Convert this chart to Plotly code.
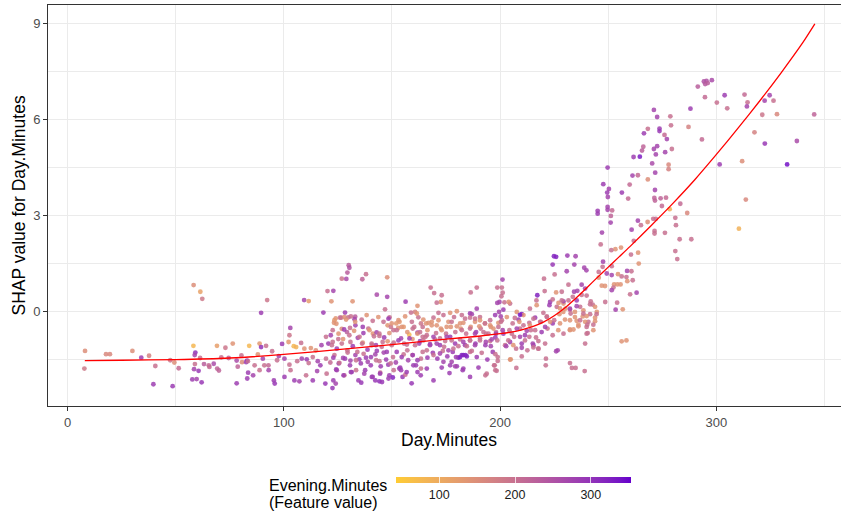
import plotly.graph_objects as go

# ---- SHAP dependence data: Day.Minutes vs its SHAP value, coloured by Evening.Minutes ----
# Low Day.Minutes (< 85)
day_a = [8.1, 7.8, 17.8, 19.6, 30.0, 34.1, 37.7, 40.6, 39.7, 47.5, 48.6, 49.4, 51.4, 58.3, 61.4, 62.3,
         58.2, 59.1, 58.8, 61.3, 58.9, 58.5, 60.6, 57.7, 59.7, 62.0, 63.1, 65.3, 65.6, 67.6, 69.2, 70.0,
         69.1, 73.0, 76.4, 71.1, 74.5, 78.2, 78.7, 78.2, 80.4, 80.7, 82.6, 83.0, 84.0, 83.5]
shap_a = [-1.22, -1.77, -1.32, -1.32, -1.22, -1.43, -1.37, -1.69, -2.26, -1.51, -2.32, -1.58, -1.76, 0.84, 0.63, 0.41,
          -1.06, -1.27, -1.35, -1.44, -1.63, -1.79, -1.84, -2.11, -2.10, -2.20, -1.63, -1.67, -1.72, -1.62, -1.77, -1.83,
          -1.06, -1.12, -0.99, -1.42, -1.44, -1.52, -1.71, -2.23, -1.36, -1.57, -1.57, -1.52, -1.06, -1.90]
eve_a = [150, 185, 160, 160, 150, 280, 170, 200, 280, 190, 285, 150, 210, 150, 115, 185,
         80, 300, 270, 200, 200, 270, 290, 280, 270, 290, 230, 210, 210, 260, 220, 220,
         120, 190, 140, 200, 220, 260, 220, 280, 200, 150, 280, 300, 80, 280]

# 85-165: upper stragglers
day_b_top = [130.0, 130.3, 129.4, 126.8, 128.9, 136.3, 138.0, 147.8, 120.2, 122.9, 122.0, 131.8, 109.4,
             111.5, 92.3, 143.0, 147.8, 156.3, 146.8, 148.9, 161.8, 118.3, 89.5, 103.0, 128.3, 160.7]
shap_b_top = [1.46, 1.38, 1.23, 1.04, 1.03, 1.02, 1.18, 1.08, 0.65, 0.66, 0.33, 0.33, 0.37,
              0.34, 0.37, 0.54, 0.47, 0.32, 0.08, -0.17, 0.19, -0.02, -0.03, -0.50, -0.02, 0.00]
eve_b_top = [230, 250, 230, 190, 260, 220, 200, 150, 200, 270, 140, 140, 270,
             120, 190, 260, 270, 280, 200, 200, 140, 280, 280, 270, 280, 170]

# 85-165: upper edge of the main band
day_b_mid = [124.0, 126.5, 128.0, 129.8, 133.0, 132.7, 124.3, 126.8, 129.2, 133.1, 136.5, 139.1, 141.2, 142.9,
             144.2, 148.0, 149.5, 152.0, 153.5, 152.9, 155.4, 158.0, 160.3, 161.8, 163.4, 158.8, 162.2, 102.6,
             123.4, 121.7, 119.5, 130.6]
shap_b_mid = [-0.20, -0.18, -0.16, -0.17, -0.15, -0.23, -0.37, -0.53, -0.63, -0.42, -0.47, -0.52, -0.68, -0.64,
              -0.75, -0.42, -0.47, -0.36, -0.31, -0.50, -0.47, -0.71, -0.47, -0.65, -0.36, -0.02, -0.17, -0.73,
              -0.26, -0.73, -0.78, -0.50]
eve_b_mid = [140, 190, 150, 200, 230, 270, 140, 150, 230, 270, 280, 200, 140, 270,
             200, 140, 190, 130, 130, 140, 130, 80, 200, 280, 190, 200, 200, 190,
             130, 270, 200, 200]

# 85-165: centre of the main band
day_b_band1 = [88.8, 89.5, 91.8, 94.6, 99.2, 102.2, 104.6, 105.7, 109.5, 112.5, 114.8, 117.4, 120.6, 122.6, 125.2,
               127.4, 130.8, 134.2, 136.5, 140.6, 142.6, 145.7, 148.0, 150.8, 154.2, 156.9, 159.5, 162.6, 164.2, 108.0]
shap_b_band1 = [-0.99, -1.10, -1.06, -1.23, -1.00, -0.94, -1.07, -1.10, -1.15, -1.13, -1.20, -1.04, -0.99, -0.94, -0.85,
                -0.85, -0.94, -0.81, -0.96, -0.99, -1.04, -0.94, -0.92, -0.96, -0.83, -1.02, -0.85, -0.99, -0.78, -0.97]
eve_b_band1 = [130, 300, 200, 200, 280, 130, 80, 90, 140, 140, 150, 270, 280, 200, 200,
               140, 200, 270, 140, 200, 270, 200, 140, 200, 270, 200, 140, 270, 200, 200]

day_b_band2 = [83.4, 86.5, 88.0, 90.3, 91.0, 92.9, 96.9, 97.7, 100.3, 102.6, 106.2, 108.3, 110.6, 111.5,
               113.4, 115.7, 116.9, 119.5, 121.5, 123.4, 125.4, 127.4, 129.5, 130.8, 133.1, 134.9, 136.9, 138.8,
               140.3, 142.3, 144.2, 146.2, 148.3, 150.5, 151.8, 153.4, 155.4, 157.5, 159.5, 161.1, 163.4]
shap_b_band2 = [-1.54, -1.67, -1.33, -1.46, -1.67, -1.67, -1.51, -1.38, -1.46, -1.65, -1.54, -1.46, -1.48, -1.60,
                -1.41, -1.54, -1.67, -1.46, -1.58, -1.35, -1.61, -1.44, -1.27, -1.52, -1.35, -1.48, -1.31, -1.56,
                -1.41, -1.33, -1.54, -1.27, -1.65, -1.41, -1.58, -1.77, -1.33, -1.51, -1.35, -1.67, -1.46]
eve_b_band2 = [200, 200, 140, 270, 200, 210, 200, 270, 270, 200, 200, 270, 280, 200,
               200, 270, 280, 200, 210, 200, 280, 270, 200, 270, 270, 280, 200, 270,
               280, 270, 200, 270, 280, 200, 270, 280, 200, 270, 200, 280, 200]

# 85-165: lower edge of the main band
day_b_low = [83.1, 85.8, 88.8, 93.0, 95.4, 95.8, 100.3, 103.1, 104.9, 107.2, 110.3, 113.4, 115.4, 119.2,
             119.8, 122.5, 122.9, 124.0, 124.5, 128.0, 131.4, 133.4, 135.8, 137.2, 141.1, 142.3, 144.6, 144.2,
             145.4, 148.8, 150.8, 154.2, 154.9, 156.2, 159.1, 161.8, 163.4]
shap_b_low = [-2.08, -1.98, -1.82, -1.82, -2.14, -2.24, -2.03, -1.82, -2.14, -2.17, -1.98, -2.14, -1.85, -2.24,
              -1.93, -2.38, -2.14, -2.24, -1.82, -1.98, -1.88, -1.82, -2.21, -1.93, -2.03, -2.14, -1.90, -2.17,
              -2.19, -1.98, -1.82, -1.82, -2.03, -1.96, -2.23, -1.88, -1.77]
eve_b_low = [280, 270, 200, 270, 280, 290, 280, 200, 280, 270, 200, 280, 270, 290,
             200, 290, 280, 270, 270, 200, 280, 200, 290, 270, 280, 290, 200, 300,
             290, 280, 200, 280, 290, 200, 290, 280, 200]

# 120-151: additional points of the dense band
day_f1 = [123.2, 126.0, 128.8, 131.0, 133.0, 136.0, 138.3, 141.1, 143.7, 146.1, 148.4, 149.9,
          122.6, 125.3, 127.9, 130.3, 132.5, 135.0, 136.8, 139.6, 141.7, 144.2, 146.4, 148.8, 150.7,
          122.2, 124.5, 126.8, 129.4, 131.9, 134.0, 136.2, 138.7, 140.7, 143.0, 145.3, 147.6, 149.9,
          122.9, 125.7, 128.3, 130.6, 133.4, 135.6, 138.0, 140.2, 142.7, 144.8, 147.3, 149.4,
          124.2, 127.6, 131.0, 134.5, 137.6, 140.7, 144.5, 148.4, 150.4]
shap_f1 = [-0.34, -0.18, -0.24, -0.14, -0.31, -0.24, -0.10, -0.28, -0.16, -0.31, -0.21, -0.36,
           -0.57, -0.68, -0.55, -0.73, -0.59, -0.78, -0.66, -0.57, -0.76, -0.68, -0.80, -0.66, -0.57,
           -1.04, -1.15, -0.99, -1.20, -1.07, -1.25, -0.99, -1.18, -1.04, -1.22, -1.09, -1.25, -1.04,
           -1.43, -1.59, -1.46, -1.67, -1.51, -1.61, -1.43, -1.67, -1.51, -1.70, -1.49, -1.61,
           -1.80, -1.98, -1.88, -2.14, -1.82, -2.03, -1.93, -2.08, -2.05]
eve_f1 = [140, 200, 140, 200, 140, 200, 140, 200, 140, 200, 280, 140,
          200, 140, 280, 200, 140, 200, 280, 140, 200, 200, 280, 140, 200,
          200, 280, 200, 200, 280, 200, 200, 280, 200, 280, 200, 280, 200,
          280, 200, 280, 280, 200, 280, 280, 280, 200, 280, 280, 200,
          280, 280, 280, 280, 280, 280, 280, 280, 320]

# 152-200: additional points of the dense band
day_f2 = [153.0, 156.1, 159.2, 161.5, 164.5, 166.9, 169.2, 171.5, 173.8, 176.1,
          178.7, 181.5, 183.8, 186.1, 188.4, 190.7, 193.0, 195.4, 197.7, 199.2,
          152.2, 154.5, 157.1, 159.6, 161.8, 164.2, 166.4, 168.4, 170.4, 172.6, 175.0,
          177.2, 179.3, 181.8, 184.3, 186.4, 188.9, 191.0, 193.5, 195.7, 198.1,
          153.0, 155.6, 158.1, 160.7, 163.0, 165.5, 167.6, 169.9, 172.2, 174.6,
          176.9, 179.2, 181.5, 183.8, 186.1, 188.6, 190.7, 193.2, 195.4, 197.8,
          152.2, 154.5, 157.1, 159.6, 161.8, 164.2, 166.4, 168.9, 171.0, 173.5, 175.6,
          178.1, 180.7, 183.0, 184.6, 186.9, 189.2, 191.5, 194.1, 196.6, 198.9,
          153.8, 156.8, 159.9, 163.3, 166.1, 169.2, 173.0, 176.6, 180.0, 182.7,
          186.1, 190.0, 193.8, 197.2, 198.4]
shap_f2 = [-0.26, -0.14, -0.31, -0.05, -0.24, -0.34, -0.18, -0.26, -0.10, -0.31,
           -0.16, -0.36, -0.21, -0.05, -0.31, -0.16, -0.36, -0.26, -0.10, -0.34,
           -0.57, -0.47, -0.63, -0.52, -0.68, -0.47, -0.57, -0.42, -0.66, -0.52, -0.68,
           -0.47, -0.63, -0.52, -0.68, -0.47, -0.63, -0.52, -0.68, -0.47, -0.63,
           -0.89, -0.99, -0.83, -1.04, -0.91, -0.78, -1.01, -0.86, -1.04, -0.91,
           -0.78, -0.99, -0.86, -1.04, -0.89, -0.99, -0.83, -1.04, -0.91, -0.80,
           -1.25, -1.41, -1.20, -1.35, -1.51, -1.25, -1.43, -1.28, -1.46, -1.22, -1.39,
           -1.25, -1.43, -1.35, -1.39, -1.22, -1.41, -1.28, -1.49, -1.25, -1.41,
           -1.74, -1.88, -1.67, -1.98, -1.77, -2.14, -1.74, -1.91, -1.70, -1.82,
           -2.03, -1.74, -1.93, -1.67, -1.84]
eve_f2 = [140, 140, 200, 140, 140, 140, 200, 140, 200, 140,
          200, 140, 200, 280, 140, 200, 140, 200, 280, 140,
          200, 140, 140, 200, 140, 200, 140, 140, 200, 140, 200,
          140, 200, 140, 200, 140, 280, 200, 200, 140, 200,
          280, 200, 280, 200, 280, 200, 280, 200, 280, 200,
          280, 280, 200, 280, 200, 280, 200, 280, 200, 280,
          280, 280, 200, 280, 280, 200, 280, 280, 280, 200, 280,
          280, 320, 320, 320, 200, 280, 200, 280, 280, 200,
          280, 280, 280, 280, 280, 280, 280, 280, 280, 280,
          280, 280, 200, 200, 200]

# 200-245: additional points of the dense band
day_f3 = [201.5, 204.6, 207.7, 210.0, 213.8, 216.9, 220.0, 223.1, 226.2, 229.3, 232.3, 235.4, 238.5, 241.6, 244.7,
          200.8, 203.1, 205.8, 208.5, 210.8, 213.5, 216.2, 218.8, 221.6, 224.3, 227.4, 230.0, 232.6, 235.4,
          238.2, 240.8, 243.9,
          201.5, 204.3, 206.5, 209.2, 211.5, 214.2, 216.6, 219.2, 221.9, 224.3, 226.9, 229.3, 232.3, 236.2,
          240.0, 243.1,
          202.3, 204.6, 207.4, 210.0, 212.6, 215.4, 217.7, 220.8,
          204.6, 210.0, 217.7]
shap_f3 = [0.07, 0.26, 0.00, -0.07, 0.10, 0.21, -0.03, 0.31, 0.16, 0.26, 0.07, 0.36, 0.05, 0.24, 0.00,
           -0.26, -0.16, -0.36, -0.24, -0.10, -0.34, -0.18, -0.31, -0.14, -0.36, -0.07, -0.24, -0.05, -0.28,
           -0.14, -0.31, -0.18,
           -0.68, -0.57, -0.78, -0.52, -0.73, -0.57, -0.80, -0.63, -0.52, -0.73, -0.57, -0.68, -0.55, -0.45,
           -0.68, -0.57,
           -1.04, -0.94, -1.15, -0.99, -1.20, -1.04, -0.91, -0.99,
           -1.49, -1.39, -1.15]
eve_f3 = [280, 200, 140, 320, 200, 140, 200, 280, 200, 140, 200, 280, 140, 200, 140,
          200, 140, 200, 280, 140, 200, 280, 200, 200, 280, 140, 140, 200, 140,
          140, 200, 140,
          280, 200, 200, 200, 280, 200, 200, 280, 200, 200, 140, 200, 140, 140,
          200, 140,
          200, 280, 200, 280, 200, 280, 200, 200,
          140, 200, 200]

# 163-196
day_c1 = [186.4, 189.2, 189.2, 186.9, 188.4, 190.7, 193.0, 195.4, 190.4, 186.1, 188.4, 192.3, 194.6, 196.9,
          190.7, 193.4, 188.4, 195.7, 186.1, 184.6, 184.0, 182.3, 181.5, 186.1, 179.6, 177.6, 176.9, 179.2,
          183.0, 173.8, 172.2, 169.2, 166.1, 167.6, 164.5, 170.7, 174.1, 176.1, 178.4, 180.7, 183.0, 177.6,
          175.3, 172.2, 169.2, 166.1, 163.0, 165.8, 168.4, 170.7, 173.0, 175.3, 177.6, 180.0, 182.3, 183.0,
          171.5, 176.9, 180.0, 169.5, 173.0, 172.6, 170.7, 186.1, 182.3, 167.9]
shap_c1 = [0.61, 0.76, 0.10, -0.07, -0.21, -0.26, -0.36, -0.42, -0.45, -0.52, -0.68, -0.63, -0.68, -0.52,
           -0.89, -0.94, -1.04, -1.07, -0.89, -1.07, -1.35, -1.35, -1.41, -1.25, -1.41, -1.56, -1.67, -1.70,
           -1.77, -1.56, -1.30, -1.35, -1.20, -1.04, -0.89, -0.99, -1.09, -1.20, -1.15, -1.07, -0.94, -0.89,
           -0.78, -0.83, -0.78, -0.73, -0.63, -0.36, -0.31, -0.42, -0.57, -0.47, -0.31, -0.45, -0.57, -0.34,
           -0.03, -0.03, 0.02, 0.59, 0.52, 0.31, 0.29, -0.18, -0.10, 0.76]
eve_c1 = [200, 200, 270, 270, 200, 140, 200, 140, 140, 200, 270, 200, 200, 140,
          200, 270, 270, 270, 200, 200, 320, 320, 320, 200, 280, 270, 280, 270,
          280, 270, 270, 200, 200, 270, 200, 270, 200, 270, 200, 200, 270, 200,
          270, 200, 270, 200, 200, 140, 140, 140, 140, 140, 200, 140, 200, 140,
          200, 140, 140, 200, 200, 140, 200, 200, 200, 200]

# 193-205
day_c2 = [201.1, 200.8, 198.7, 201.2, 200.6, 199.7, 198.7, 202.0, 204.0, 199.5,
          200.3, 200.4, 199.2, 201.2, 198.1, 198.7, 196.1, 197.8, 197.5, 198.9, 193.2, 197.8]
shap_c2 = [1.01, 0.76, 0.76, 0.60, 0.49, 0.31, 0.28, 0.30, 0.31, 0.00,
           -0.14, -0.31, -0.47, -0.57, -0.68, -0.89, -0.86, -1.32, -1.67, -1.53, -1.98, -1.82]
eve_c2 = [270, 200, 200, 200, 200, 270, 270, 200, 140, 270,
          270, 200, 200, 270, 270, 200, 270, 200, 200, 200, 200, 200]

# 202-233
day_c3 = [224.9, 225.9, 231.1, 224.3, 225.2, 230.8, 231.6, 220.3, 217.2, 220.6, 216.8, 222.8, 224.3,
          225.9, 228.5, 227.0, 229.3, 231.6, 227.7, 230.2, 221.6, 223.1, 225.0, 220.8, 218.5, 215.4,
          213.8, 216.2, 212.3, 213.5, 209.2, 206.8, 208.9, 210.8, 207.7, 205.4, 209.2, 211.5, 215.1,
          217.7, 203.8, 202.8, 206.1, 204.9, 207.5, 221.2, 221.1, 225.9, 226.6, 232.3, 215.4, 210.0]
shap_c3 = [1.74, 1.72, 1.76, 1.48, 1.17, 1.27, 0.85, 1.04, 0.52, 0.65, 0.36, 0.21, 0.39,
           0.61, 0.63, 0.28, 0.33, 0.36, 0.11, 0.10, -0.16, -0.31, -0.26, -0.47, -0.31, -0.21,
           -0.42, -0.57, -0.59, -0.78, -0.09, -0.19, -0.31, -0.42, -0.52, -0.68, -0.78, -0.89, -0.99,
           -1.15, -0.89, -1.07, -1.04, -1.48, -1.75, -1.46, -1.67, -1.23, -1.20, -1.60, -1.11, -1.12]
eve_c3 = [320, 320, 280, 290, 200, 270, 200, 200, 320, 200, 200, 280, 200,
          140, 200, 140, 270, 200, 140, 140, 200, 140, 200, 270, 200, 200,
          140, 200, 270, 200, 330, 200, 140, 200, 270, 200, 270, 200, 270,
          200, 200, 270, 140, 140, 200, 200, 200, 270, 270, 200, 200, 270]

# 227-265, SHAP below ~2.3
day_d1 = [261.8, 246.5, 253.3, 255.9, 251.4, 260.5, 263.8, 234.9, 234.3, 238.9, 239.9, 247.6, 247.4,
          251.6, 254.5, 258.7, 260.7, 261.3, 258.4, 256.2, 264.1, 245.6, 249.3, 251.6, 247.0, 248.5,
          252.7, 254.2, 255.7, 252.4, 251.6, 245.6, 258.8, 260.1, 263.1, 254.1, 248.6, 253.4, 256.7,
          237.7, 239.3, 234.2, 235.7, 233.6, 237.7, 240.0, 241.9, 242.8, 243.9, 244.6, 241.6, 240.0,
          238.5, 237.0, 235.4, 232.3, 228.5, 229.2, 234.6, 227.7, 232.3, 234.6, 237.0, 233.9, 232.3,
          236.2, 239.3, 240.3, 243.9, 243.1, 240.0, 240.5, 239.3, 256.2, 258.4, 233.2, 234.9, 239.1]
shap_d1 = [2.22, 2.11, 1.96, 2.01, 1.93, 1.79, 1.85, 1.74, 1.48, 1.38, 1.30, 1.57, 1.41,
           1.43, 1.18, 1.28, 1.27, 0.99, 1.09, 1.11, 1.51, 1.25, 1.20, 1.15, 0.82, 0.81,
           0.86, 0.86, 0.86, 0.76, 0.68, 1.07, 0.96, 0.55, 0.60, 0.29, 0.31, 0.07, 0.08,
           0.85, 0.73, 0.63, 0.66, 0.47, 0.53, 0.51, 0.33, 0.23, 0.16, -0.07, -0.07, -0.13,
           -0.05, 0.16, 0.18, 0.10, 0.36, 0.00, 0.00, -0.36, -0.26, -0.16, -0.26, -0.55, -0.57,
           -0.40, -0.31, -0.40, -0.29, -0.40, -0.47, -0.66, -0.99, -0.92, -0.89, -1.75, -1.75, -1.85]
eve_d1 = [200, 200, 140, 140, 200, 200, 140, 270, 270, 270, 270, 270, 200,
          200, 140, 270, 200, 200, 200, 200, 140, 200, 270, 270, 140, 140,
          140, 140, 140, 200, 270, 140, 140, 200, 270, 200, 200, 270, 140,
          270, 270, 270, 270, 200, 200, 200, 200, 200, 140, 200, 200, 140,
          200, 200, 270, 270, 200, 140, 140, 140, 140, 140, 200, 140, 140,
          140, 140, 200, 140, 200, 200, 200, 200, 140, 140, 200, 200, 200]

# 245-346, the steep upper arm
day_d2 = [291.4, 294.2, 295.4, 294.8, 296.0, 297.9, 294.7, 303.8, 313.0, 324.6, 300.2, 305.0, 314.4, 314.1,
          322.3, 326.4, 288.0, 321.2, 328.0, 345.2, 271.1, 272.6, 278.7, 279.0, 268.3, 273.7, 273.7, 266.5,
          276.0, 277.1, 287.1, 293.3, 317.6, 337.2, 322.4, 266.2, 265.6, 271.1, 272.6, 279.4, 276.3, 272.0,
          261.7, 264.6, 270.3, 277.9, 277.9, 301.5, 311.9, 332.7, 249.7, 261.2, 263.7, 271.7, 268.3, 247.7,
          250.3, 249.5, 249.8, 259.9, 256.3, 271.6, 259.2, 271.3, 271.6, 274.2, 276.7, 274.8, 283.3, 313.6,
          249.7, 249.7, 251.8, 251.2, 251.1, 278.4, 286.5, 281.0, 281.3, 270.8, 272.0, 268.2, 265.1, 263.7,
          260.8, 247.1, 271.4, 271.4, 276.2, 310.4, 283.0, 288.4, 245.1, 245.1, 281.0, 281.9]
shap_d2 = [7.04, 7.20, 7.22, 7.12, 7.15, 7.24, 6.71, 6.77, 6.79, 6.77, 6.54, 6.36, 6.55, 6.42,
           6.60, 6.60, 6.35, 6.16, 6.18, 6.17, 6.31, 6.09, 6.11, 5.83, 5.72, 5.73, 5.65, 5.58,
           5.53, 5.40, 5.78, 5.39, 5.61, 5.34, 5.26, 5.16, 5.04, 5.09, 5.18, 5.09, 4.99, 4.92,
           4.84, 4.85, 4.64, 4.60, 4.46, 4.61, 4.71, 4.61, 4.51, 4.26, 4.27, 4.35, 4.14, 3.99,
           3.84, 3.73, 3.59, 3.98, 3.73, 3.81, 3.54, 3.56, 3.48, 3.55, 3.57, 3.31, 3.38, 3.51,
           3.28, 3.19, 3.17, 3.00, 2.79, 3.21, 3.09, 2.94, 2.71, 2.91, 2.91, 2.81, 2.71, 2.85,
           2.57, 2.48, 2.53, 2.45, 2.47, 2.60, 2.27, 2.27, 3.16, 3.07, 1.90, 1.65]
eve_d2 = [230, 250, 250, 240, 230, 260, 210, 280, 210, 270, 200, 200, 200, 270,
          270, 200, 280, 190, 160, 220, 270, 270, 200, 200, 200, 280, 290, 280,
          210, 270, 170, 210, 170, 260, 290, 220, 230, 270, 270, 200, 270, 270,
          280, 330, 260, 160, 170, 280, 150, 340, 280, 270, 210, 270, 150, 280,
          270, 280, 270, 210, 280, 270, 210, 220, 220, 220, 210, 210, 210, 160,
          270, 270, 210, 220, 270, 90, 160, 200, 200, 200, 200, 150, 200, 270,
          270, 270, 200, 200, 200, 90, 200, 200, 280, 280, 200, 200]

# Fitted smoother through the dependence cloud
smooth_day = [8, 25, 50, 75, 100, 125, 150, 175, 190, 200, 205, 210, 215, 220, 225, 230, 235, 240, 245, 250,
              255, 260, 270, 280, 290, 300, 310, 320, 330, 340, 345.5]
smooth_shap = [-1.52, -1.51, -1.49, -1.44, -1.33, -1.18, -1.02, -0.85, -0.76, -0.68, -0.63, -0.56, -0.46, -0.32,
               -0.12, 0.13, 0.43, 0.75, 1.08, 1.40, 1.72, 2.04, 2.71, 3.40, 4.13, 4.92, 5.74, 6.59, 7.48, 8.42, 9.0]

x_ticks = [0, 100, 200, 300]
y_ticks = [0, 3, 6, 9]
legend_ticks = [100, 200, 300]
eve_limits = [43, 353]

groups = [
    (day_a, shap_a, eve_a), (day_b_top, shap_b_top, eve_b_top), (day_b_mid, shap_b_mid, eve_b_mid),
    (day_b_band1, shap_b_band1, eve_b_band1), (day_b_band2, shap_b_band2, eve_b_band2),
    (day_b_low, shap_b_low, eve_b_low), (day_f1, shap_f1, eve_f1), (day_f2, shap_f2, eve_f2),
    (day_f3, shap_f3, eve_f3), (day_c1, shap_c1, eve_c1), (day_c2, shap_c2, eve_c2),
    (day_c3, shap_c3, eve_c3), (day_d1, shap_d1, eve_d1), (day_d2, shap_d2, eve_d2),
]
day_minutes, shap_value, evening_minutes = [], [], []
for d, s, e in groups:
    assert len(d) == len(s) == len(e)
    day_minutes += d
    shap_value += s
    evening_minutes += e


# ---- two-colour gradient interpolated in CIELAB (like ggplot's scale_colour_gradient) ----
def _to_lin(c):
    c /= 255.0
    return c / 12.92 if c <= 0.04045 else ((c + 0.055) / 1.055) ** 2.4


def _from_lin(c):
    v = 12.92 * c if c <= 0.0031308 else 1.055 * c ** (1 / 2.4) - 0.055
    return max(0, min(255, round(v * 255)))


WHITE = (0.95047, 1.0, 1.08883)


def hex_to_lab(h):
    r, g, b = (_to_lin(int(h[i:i + 2], 16)) for i in (1, 3, 5))
    x = 0.4124 * r + 0.3576 * g + 0.1805 * b
    y = 0.2126 * r + 0.7152 * g + 0.0722 * b
    z = 0.0193 * r + 0.1192 * g + 0.9505 * b
    f = [t ** (1 / 3) if t > 0.008856 else 7.787 * t + 16 / 116 for t in (x / WHITE[0], y / WHITE[1], z / WHITE[2])]
    return 116 * f[1] - 16, 500 * (f[0] - f[1]), 200 * (f[1] - f[2])


def lab_to_hex(L, a, b):
    fy = (L + 16) / 116
    fx, fz = fy + a / 500, fy - b / 200
    xyz = [(t ** 3 if t ** 3 > 0.008856 else (t - 16 / 116) / 7.787) * w for t, w in zip((fx, fy, fz), WHITE)]
    x, y, z = xyz
    r = 3.2406 * x - 1.5372 * y - 0.4986 * z
    g = -0.9689 * x + 1.8758 * y + 0.0415 * z
    bb = 0.0557 * x - 0.2040 * y + 1.0570 * z
    return "#%02x%02x%02x" % tuple(_from_lin(max(0.0, v)) for v in (r, g, bb))


low_lab, high_lab = hex_to_lab("#FFCC33"), hex_to_lab("#6600CC")
n_stops = 21
colorscale = []
for i in range(n_stops):
    t = i / (n_stops - 1)
    colorscale.append([t, lab_to_hex(*[lo + (hi - lo) * t for lo, hi in zip(low_lab, high_lab)])])

# ---- figure ----
W, H = 841, 512
ML, MT, MB = 48, 5, 106
plot_w, plot_h = W - ML, H - MT - MB
FONT = "Liberation Sans, Arial, Helvetica, sans-serif"


def px_x(p):
    return (p - ML) / plot_w


def px_y(p):
    return (H - MB - p) / plot_h


fig = go.Figure()
fig.add_trace(go.Scatter(
    x=day_minutes, y=shap_value, mode="markers", hoverinfo="skip", showlegend=False,
    marker=dict(
        color=evening_minutes, colorscale=colorscale, cmin=eve_limits[0], cmax=eve_limits[1],
        size=4.8, opacity=0.85, line=dict(width=0),
        colorbar=dict(
            orientation="h", x=px_x(513.5), xanchor="center", y=px_y(477.3), yanchor="top",
            lenmode="pixels", len=235, thicknessmode="pixels", thickness=6,
            xpad=0, ypad=0, outlinewidth=0, tickvals=legend_ticks,
            ticks="inside", ticklen=6, tickwidth=1, tickcolor="rgba(255,255,255,0.75)",
            tickfont=dict(family=FONT, size=12.5, color="#1A1A1A"),
        ),
    ),
))
fig.add_trace(go.Scatter(
    x=smooth_day, y=smooth_shap, mode="lines", hoverinfo="skip", showlegend=False,
    line=dict(color="#FF0000", width=1.3, shape="spline", smoothing=0.6),
))

grid = "#EBEBEB"
axis_common = dict(
    showgrid=True, gridcolor=grid, gridwidth=1.4, zeroline=False,
    showline=True, linecolor="#333333", linewidth=1,
    ticks="outside", ticklen=4, tickwidth=1, tickcolor="#333333",
    tickfont=dict(family=FONT, size=13, color="#4D4D4D"),
)
fig.update_xaxes(
    range=[-9.02, 357.6], tickvals=x_ticks, mirror=True,
    minor=dict(tickvals=[50, 150, 250, 350], showgrid=True, gridcolor=grid, gridwidth=0.7, ticks=""),
    **axis_common,
)
fig.update_yaxes(
    range=[-2.94, 9.59], tickvals=y_ticks, mirror=False,
    minor=dict(tickvals=[-1.5, 1.5, 4.5, 7.5], showgrid=True, gridcolor=grid, gridwidth=0.7, ticks=""),
    **axis_common,
)

annotations = [
    dict(text="Day.Minutes", x=px_x(449.5), y=px_y(440), xanchor="center", yanchor="middle",
         font=dict(family=FONT, size=17.5, color="black")),
    dict(text="SHAP value for Day.Minutes", x=px_x(18.5), y=px_y(206), textangle=-90,
         xanchor="center", yanchor="middle", font=dict(family=FONT, size=17.5, color="black")),
    dict(text="Evening.Minutes", x=px_x(267), y=px_y(485.5), xanchor="left", yanchor="middle",
         font=dict(family=FONT, size=16, color="black")),
    dict(text="(Feature value)", x=px_x(267), y=px_y(502), xanchor="left", yanchor="middle",
         font=dict(family=FONT, size=16, color="black")),
]
for a in annotations:
    a.update(xref="paper", yref="paper", showarrow=False)

fig.update_layout(
    width=W, height=H, margin=dict(l=ML, r=0, t=MT, b=MB, pad=0),
    paper_bgcolor="white", plot_bgcolor="white",
    annotations=annotations, hovermode=False,
)

fig.write_html("out.html")
